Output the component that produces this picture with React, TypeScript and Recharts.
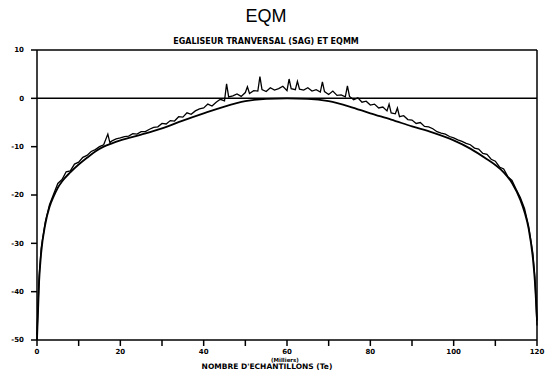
import React from 'react';
import { LineChart, Line, XAxis, YAxis, ReferenceLine } from 'recharts';

// Nombre d'echantillons (milliers) et EQM en dB
const theoX = [0, 0.5, 1, 2, 3, 4, 5, 6, 8, 10, 12, 14, 16, 18, 20, 25, 30, 35, 40, 45, 50, 55, 60, 65, 70, 75, 80, 85, 90, 95, 100, 104, 108, 110, 112, 114, 116, 117, 118, 119, 119.5, 120];
const theoEqmm = [-50, -38, -32, -26, -22.5, -20.3, -18.5, -17.2, -15.3, -13.7, -12.3, -11, -10, -9.3, -8.7, -7.5, -6.2, -4.6, -3.1, -1.7, -0.6, -0.1, 0, -0.1, -0.6, -1.7, -3.1, -4.4, -5.8, -7.1, -8.7, -10.4, -12.6, -13.8, -15.3, -17.5, -21, -23.5, -27, -33, -38, -46];

const simX = [0, 0.5, 1, 2, 3, 4, 5, 6, 7, 8, 9, 10, 11, 12, 13, 14, 15, 16, 17, 17.5, 18, 19, 20, 21, 22, 23, 24, 25, 26, 27, 28, 29, 30, 31, 32, 33, 34, 35, 36, 37, 38, 39, 40, 41, 42, 43, 44, 45, 45.5, 46, 47, 48, 49, 50, 50.5, 51, 52, 53, 53.5, 54, 55, 56, 57, 58, 59, 60, 60.5, 61, 62, 62.5, 63, 64, 65, 66, 67, 68, 68.5, 69, 70, 71, 72, 73, 74, 74.5, 75, 76, 77, 78, 79, 80, 81, 82, 83, 84, 84.5, 85, 86, 86.5, 87, 88, 89, 90, 91, 92, 93, 94, 95, 96, 97, 98, 99, 100, 101, 102, 103, 104, 105, 106, 107, 108, 109, 110, 111, 112, 113, 114, 115, 116, 117, 118, 119, 119.5, 120];
const simSag = [-49, -37, -31, -25.5, -22, -19.8, -17.6, -16.8, -15.2, -15, -13.6, -13.2, -12.2, -11.8, -11, -10.6, -10, -9.6, -7.4, -9.2, -8.8, -8.4, -8.2, -7.9, -7.8, -7.3, -7.4, -6.9, -6.9, -6.4, -6, -5.9, -5.2, -5.3, -4.6, -4.7, -3.8, -3.9, -3, -3.3, -2.6, -2.2, -2, -1.2, -1.6, -0.8, -0.2, -0.5, 3, 0.3, 0.5, 0.9, 0.4, 1.2, 2.4, 1, 1.6, 1.5, 4.5, 1.8, 1.4, 2.2, 1.7, 2, 2.5, 1.6, 4, 2, 1.8, 3.5, 1.9, 1.7, 2.2, 1.5, 1.8, 1.3, 3.4, 1.4, 0.8, 1.5, 0.6, 0.7, 0.3, 2.6, 0.4, -0.3, 0.1, -0.8, -0.6, -1.4, -1.2, -2, -1.8, -2.6, -1.2, -3, -3.2, -2, -3.8, -3.6, -4.4, -4.5, -5.2, -5, -5.8, -5.9, -6.3, -6.9, -7.2, -7.4, -7.9, -8.2, -8.6, -8.9, -9.3, -9.6, -10.3, -10.5, -11.4, -11.6, -12.6, -13, -14.2, -14.6, -16.2, -17, -18.8, -20.5, -22.8, -26.5, -32, -37, -47];

const xTicks = [0, 10, 20, 30, 40, 50, 60, 70, 80, 90, 100, 110, 120];
const yTicks = [-50, -40, -30, -20, -10, 0, 10];

const theoData = theoX.map((x, i) => ({ x, y: theoEqmm[i] }));
const simData = simX.map((x, i) => ({ x, y: simSag[i] }));

const font = '"Liberation Sans", Arial, sans-serif';
const boldFont = '"DejaVu Sans", sans-serif';

function XTick(props: any) {
  const { x, y, payload } = props;
  if (payload.value % 20 !== 0) return null;
  return (
    <text x={x} y={y + 6} textAnchor="middle" fontFamily={boldFont} fontSize={7} fontWeight="bold" fill="#000">
      {payload.value}
    </text>
  );
}

export default function App() {
  return (
    <div style={{ position: 'absolute', left: 0, top: 0, width: 560, height: 376, background: '#fff', fontFamily: font }}>
      <div style={{ position: 'absolute', left: 0, width: 532, top: 6, textAlign: 'center', fontSize: 18, lineHeight: '20px' }}>EQM</div>
      <div style={{ position: 'absolute', left: 0, width: 532, top: 37, textAlign: 'center', fontFamily: boldFont, fontSize: 8, lineHeight: '9px', fontWeight: 'bold' }}>
        EGALISEUR TRANVERSAL (SAG) ET EQMM
      </div>
      <LineChart width={560} height={376} data={simData} margin={{ top: 50, right: 23, left: 0, bottom: 0 }}>
        <XAxis
          dataKey="x"
          type="number"
          domain={[0, 120]}
          ticks={xTicks}
          interval={0}
          tick={<XTick />}
          tickSize={6}
          height={36}
          stroke="#000"
          strokeWidth={1.5}
          allowDuplicatedCategory={false}
        />
        <YAxis
          type="number"
          domain={[-50, 10]}
          ticks={yTicks}
          interval={0}
          tickSize={6}
          tickMargin={7}
          width={37}
          stroke="#000"
          strokeWidth={1.5}
          tick={{ fontSize: 7, fontWeight: 'bold', fill: '#000', fontFamily: boldFont }}
        />
        <ReferenceLine y={10} stroke="#000" strokeWidth={1.5} />
        <ReferenceLine x={120} stroke="#000" strokeWidth={1.5} />
        <ReferenceLine y={0} stroke="#000" strokeWidth={1.5} />
        <Line data={theoData} dataKey="y" type="monotone" stroke="#000" strokeWidth={1.8} dot={false} isAnimationActive={false} />
        <Line data={simData} dataKey="y" type="linear" stroke="#000" strokeWidth={1.3} dot={false} isAnimationActive={false} />
      </LineChart>
      <div style={{ position: 'absolute', left: 0, width: 570, top: 357, textAlign: 'center', fontFamily: boldFont, fontSize: 5.5, lineHeight: '6px', fontWeight: 'bold' }}>
        (Milliers)
      </div>
      <div style={{ position: 'absolute', left: 0, width: 534, top: 363, textAlign: 'center', fontFamily: boldFont, fontSize: 7.5, lineHeight: '8px', fontWeight: 'bold' }}>
        NOMBRE D'ECHANTILLONS (Te)
      </div>
    </div>
  );
}
